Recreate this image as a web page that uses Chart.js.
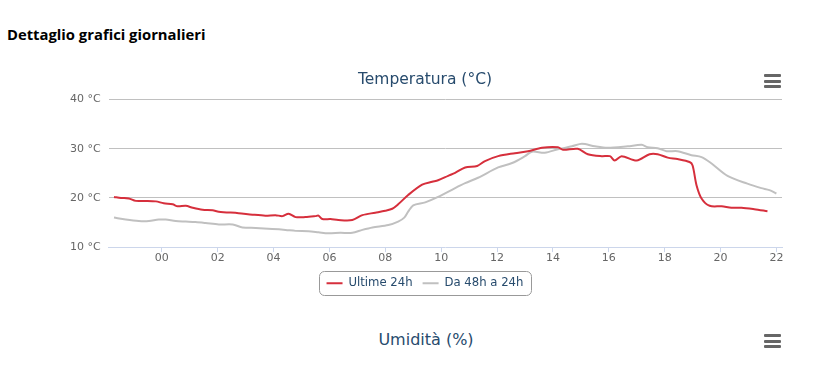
<!DOCTYPE html>
<html>
<head>
<meta charset="utf-8">
<script src="https://cdn.jsdelivr.net/npm/chart.js@4.4.1/dist/chart.umd.min.js"></script>
<style>
    body { margin: 0; background: #fff; width: 822px; height: 371px; overflow: hidden; position: relative; font-family: "Open Sans", sans-serif; }
    h3 { position: absolute; left: 7px; top: 24px; margin: 0; font-size: 14.8px; font-weight: bold; color: #000; }
    #box1 { position: absolute; left: 30px; top: 50px; width: 792px; height: 261px; }
    .menu { position: absolute; left: 764px; width: 17px; }
    .menu span { display: block; height: 3px; background: #666; margin-bottom: 2.5px; border-radius: 1px; }
    .subtitle { position: absolute; left: 30px; width: 792px; text-align: center; font-family: "DejaVu Sans", sans-serif; font-size: 16px; color: #274b6d; }
</style>
</head>
<body>
<h3>Dettaglio grafici giornalieri</h3>
<div id="box1"><canvas id="tempChart"></canvas></div>
<div class="menu" style="top:74px"><span></span><span></span><span></span></div>
<div class="subtitle" style="top:330px">Umidità (%)</div>
<div class="menu" style="top:334px"><span></span><span></span><span></span></div>
<script>
const hourTicks = [0, 2, 4, 6, 8, 10, 12, 14, 16, 18, 20, 22];
const tempTicks = [10, 20, 30, 40];

// Ultime 24h
const recentHours = [-1.71, -1.46, -1.18, -0.93, -0.57, -0.21, 0.07, 0.39, 0.57, 0.86, 1.11, 1.46, 1.82, 2.04,
    2.75, 3.25, 3.71, 4.07, 4.32, 4.54, 4.79, 5.14, 5.5, 5.61, 5.75, 6.04, 6.32, 6.82, 7.18, 7.64, 8.0, 8.25,
    8.46, 8.82, 9.32, 9.68, 9.89, 10.25, 10.5, 10.86, 11.29, 11.57, 12.04, 12.64, 13.11, 13.61, 14.18, 14.36,
    14.89, 15.25, 15.75, 16.04, 16.21, 16.46, 17.0, 17.46, 17.75, 18.11, 18.46, 18.89, 19.0, 19.14, 19.32,
    19.61, 20.04, 20.39, 20.75, 21.21, 21.68];
const recentTemps = [20.2, 20.0, 19.9, 19.4, 19.4, 19.3, 18.9, 18.7, 18.3, 18.4, 18.0, 17.6, 17.5, 17.2,
    16.9, 16.6, 16.4, 16.5, 16.3, 16.8, 16.1, 16.1, 16.3, 16.4, 15.7, 15.7, 15.5, 15.5, 16.5, 17.0, 17.4, 17.8,
    18.7, 20.6, 22.7, 23.3, 23.6, 24.5, 25.1, 26.2, 26.5, 27.5, 28.5, 29.1, 29.5, 30.2, 30.3, 29.8,
    30.0, 28.9, 28.5, 28.5, 27.6, 28.5, 27.6, 28.9, 28.9, 28.2, 27.9, 27.3, 26.6, 22.6, 19.9,
    18.4, 18.3, 18.0, 18.0, 17.7, 17.3];

// Da 48h a 24h
const previousHours = [-1.71, -1.29, -0.82, -0.46, -0.11, 0.14, 0.5, 0.86, 1.21, 1.57, 2.04, 2.54, 2.89, 3.36,
    3.96, 4.43, 4.79, 5.25, 5.61, 5.96, 6.39, 6.82, 7.18, 7.54, 8.11, 8.46, 8.68, 8.82, 9.0, 9.43, 9.89,
    10.5, 10.86, 11.32, 12.04, 12.54, 13.0, 13.25, 13.71, 14.18, 14.68, 15.04, 15.5, 15.96, 16.68, 17.18,
    17.39, 17.75, 18.07, 18.46, 18.96, 19.32, 19.68, 20.25, 20.96, 21.46, 21.75, 22.0];
const previousTemps = [16.0, 15.6, 15.3, 15.3, 15.6, 15.6, 15.3, 15.2, 15.1, 14.9, 14.6, 14.6, 14.0, 13.9,
    13.7, 13.5, 13.3, 13.2, 13.0, 12.8, 12.9, 12.9, 13.5, 14.0, 14.5, 15.2, 16.0, 17.2, 18.5, 19.1, 20.2,
    22.0, 23.0, 24.1, 26.2, 27.1, 28.5, 29.4, 29.2, 29.9, 30.5, 31.0, 30.5, 30.2, 30.5, 30.8,
    30.3, 30.1, 29.5, 29.5, 28.7, 28.3, 27.0, 24.5, 22.9, 22.0, 21.6, 20.9];

function toPoints(hours, temps) {
    return hours.map((h, i) => ({ x: h, y: temps[i] }));
}

const fontFamily = '"DejaVu Sans", sans-serif';

// bordo arrotondato attorno alla legenda
const legendFrame = {
    id: 'legendFrame',
    afterDraw(chart) {
        const boxes = chart.legend.legendHitBoxes;
        if (!boxes || !boxes.length) return;
        let left = Infinity, right = -Infinity, top = Infinity, bottom = -Infinity;
        boxes.forEach(b => {
            left = Math.min(left, b.left);
            right = Math.max(right, b.left + b.width);
            top = Math.min(top, b.top);
            bottom = Math.max(bottom, b.top + b.height);
        });
        const ctx = chart.ctx;
        ctx.save();
        ctx.strokeStyle = '#999999';
        ctx.lineWidth = 1;
        ctx.beginPath();
        ctx.roundRect(Math.round(left - 8) + 0.5, Math.round(top - 6) + 0.5, Math.round(right - left + 15), Math.round(bottom - top + 12), 5);
        ctx.stroke();
        ctx.restore();
    }
};

const ctx = document.getElementById('tempChart').getContext('2d');
const chart = new Chart(ctx, {
    type: 'line',
    data: {
        datasets: [
            {
                label: 'Ultime 24h',
                data: toPoints(recentHours, recentTemps),
                borderColor: '#d62f3c',
                backgroundColor: '#d62f3c',
                borderWidth: 2,
                pointRadius: 0,
                tension: 0.3
            },
            {
                label: 'Da 48h a 24h',
                data: toPoints(previousHours, previousTemps),
                borderColor: '#c0c0c0',
                backgroundColor: '#c0c0c0',
                borderWidth: 2,
                pointRadius: 0,
                tension: 0.3
            }
        ]
    },
    options: {
        responsive: true,
        maintainAspectRatio: false,
        animation: false,
        layout: {
            padding: { top: 10, left: 38, right: 40, bottom: 12 }
        },
        plugins: {
            title: {
                display: true,
                text: 'Temperatura (°C)',
                color: '#274b6d',
                font: { family: fontFamily, size: 15.5, weight: 'normal' },
                padding: { top: 11, bottom: 10 }
            },
            legend: {
                position: 'bottom',
                labels: {
                    usePointStyle: true,
                    pointStyle: 'line',
                    pointStyleWidth: 16,
                    color: '#274b6d',
                    font: { family: fontFamily, size: 11.7 },
                    padding: 10
                }
            },
            tooltip: { enabled: false }
        },
        scales: {
            x: {
                type: 'linear',
                min: -1.9,
                max: 22.2,
                afterBuildTicks: scale => {
                    scale.ticks = hourTicks.map(v => ({ value: v }));
                },
                afterFit: scale => {
                    scale.height += 4;
                },
                border: { color: '#ccd6eb' },
                grid: { drawOnChartArea: false, drawTicks: true, tickLength: 5, color: '#ccd6eb' },
                ticks: {
                    color: '#666666',
                    font: { family: fontFamily, size: 11 },
                    padding: -1,
                    maxRotation: 0,
                    callback: v => String(((v % 24) + 24) % 24).padStart(2, '0')
                }
            },
            y: {
                min: 10,
                max: 40,
                afterBuildTicks: scale => {
                    scale.ticks = tempTicks.map(v => ({ value: v }));
                },
                afterFit: scale => {
                    scale.width -= 6;
                },
                border: { display: false },
                grid: {
                    drawTicks: false,
                    color: c => c.tick && c.tick.value === 10 ? 'rgba(0,0,0,0)' : '#c0c0c0'
                },
                ticks: {
                    color: '#666666',
                    font: { family: fontFamily, size: 11 },
                    padding: 8,
                    callback: v => v + ' °C'
                }
            }
        }
    },
    plugins: [legendFrame]
});
</script>
</body>
</html>
